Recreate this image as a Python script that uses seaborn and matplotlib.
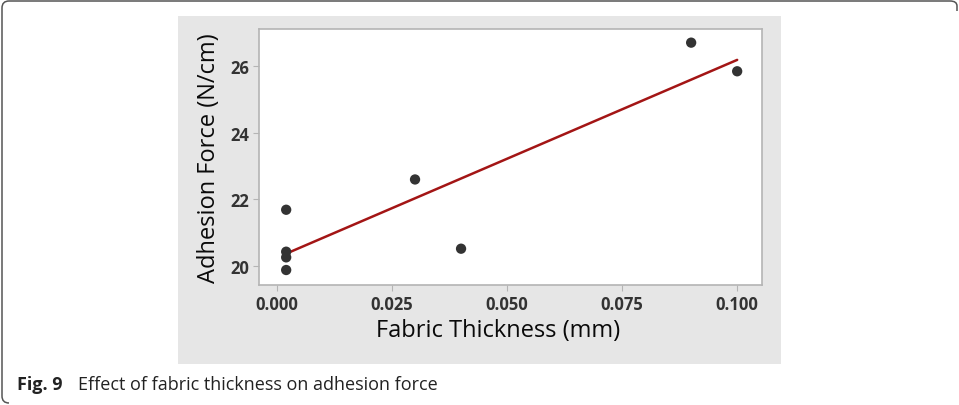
import numpy as np
import pandas as pd
import matplotlib.pyplot as plt
from matplotlib.patches import Rectangle
from matplotlib.path import Path
from matplotlib.patches import PathPatch
import seaborn as sns

# data
thickness = [0.002, 0.002, 0.002, 0.002, 0.030, 0.040, 0.090, 0.100]
adhesion = [21.68, 20.42, 20.25, 19.87, 22.59, 20.51, 26.70, 25.84]
x_ticks = [0.000, 0.025, 0.050, 0.075, 0.100]
y_ticks = [20, 22, 24, 26]

df = pd.DataFrame({"thickness": thickness, "adhesion": adhesion})

sns.set_style("white")
plt.rcParams["font.family"] = ["Open Sans", "DejaVu Sans"]

PANEL = "#e6e6e6"
PONTO = "#333333"
LINHA = "#a31515"

fig = plt.figure(figsize=(9.59, 4.06), dpi=100)

# gray Minitab-like panel
fig.patches.append(Rectangle((0.1856, 0.101), 0.6288, 0.857,
                             transform=fig.transFigure, facecolor=PANEL,
                             edgecolor="none", zorder=-5))

# figure box (top and left edges, rounded corners)
W, H = 959, 406
verts = [(957 / W, 1 - 12 / H), (957 / W, 1 - 7 / H), (957 / W, 1 - 2 / H),
         (950 / W, 1 - 2 / H), (9 / W, 1 - 2 / H), (2 / W, 1 - 2 / H),
         (2 / W, 1 - 9 / H), (2 / W, 1 - 397 / H), (2 / W, 1 - 404 / H),
         (9 / W, 1 - 404 / H)]
codes = [Path.MOVETO, Path.LINETO, Path.CURVE3, Path.CURVE3, Path.LINETO,
         Path.CURVE3, Path.CURVE3, Path.LINETO, Path.CURVE3, Path.CURVE3]
fig.patches.append(PathPatch(Path(verts, codes), transform=fig.transFigure,
                             facecolor="none", edgecolor="#555555", lw=1.1,
                             zorder=-5))

ax = fig.add_axes([0.2701, 0.2956, 0.5245, 0.6305])
ax.set_facecolor("white")

sns.regplot(data=df, x="thickness", y="adhesion", ax=ax, ci=None,
            scatter_kws={"s": 55, "color": PONTO, "edgecolor": "none",
                         "alpha": 1, "zorder": 3},
            line_kws={"color": LINHA, "lw": 1.8, "zorder": 2})

ax.set_xlim(-0.0039, 0.1054)
ax.set_ylim(19.42, 27.11)
ax.set_xticks(x_ticks)
ax.set_xticklabels([f"{v:.3f}" for v in x_ticks])
ax.set_yticks(y_ticks)

for s in ax.spines.values():
    s.set_color("#b4b4b4")
    s.set_linewidth(1.2)

ax.tick_params(axis="both", which="major", length=4, width=0.8,
               color="#b4b4b4", labelsize=12, labelcolor="#333333",
               direction="out", left=True, bottom=True, pad=3)
for lbl in ax.get_xticklabels() + ax.get_yticklabels():
    lbl.set_fontweight("bold")

ax.set_xlabel("Fabric Thickness (mm)", fontsize=17, color="#0a0a0a")
ax.set_ylabel("Adhesion Force (N/cm)", fontsize=17, color="#0a0a0a")
ax.xaxis.label.set_va("baseline")
ax.yaxis.label.set_va("baseline")
ax.xaxis.set_label_coords(0.476, -0.199)
ax.yaxis.set_label_coords(-0.0875, 0.5)

# caption
fig.text(17 / W, 1 - 385 / H, "Fig. 9", fontsize=13, fontweight="bold",
         va="center", ha="left", color="#222222")
fig.text(78 / W, 1 - 385 / H, "Effect of fabric thickness on adhesion force",
         fontsize=13, va="center", ha="left", color="#222222")

fig.savefig("out.png", dpi=100, facecolor="white")
